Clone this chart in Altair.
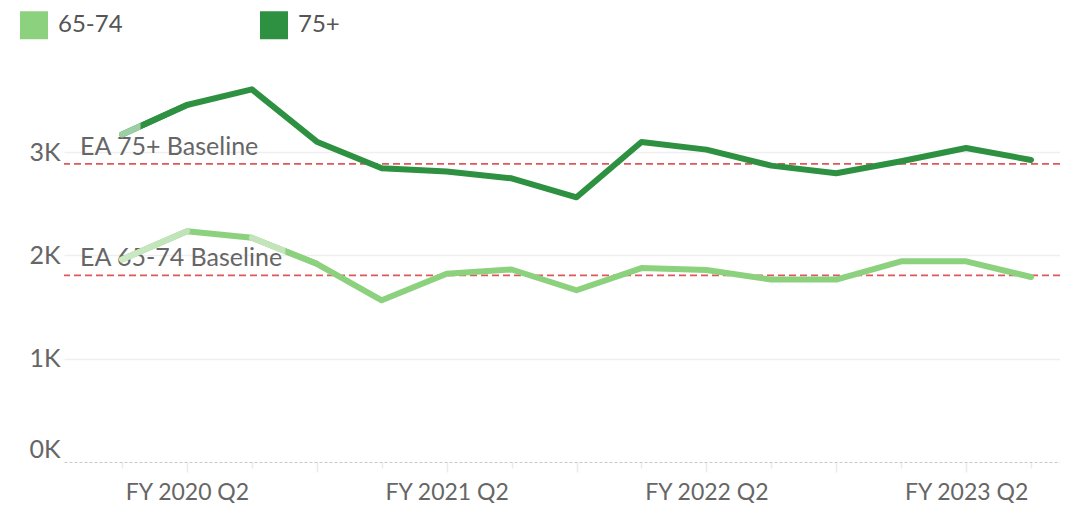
import altair as alt
import pandas as pd

quarters = ["FY 2020 Q1", "FY 2020 Q2", "FY 2020 Q3", "FY 2020 Q4",
            "FY 2021 Q1", "FY 2021 Q2", "FY 2021 Q3", "FY 2021 Q4",
            "FY 2022 Q1", "FY 2022 Q2", "FY 2022 Q3", "FY 2022 Q4",
            "FY 2023 Q1", "FY 2023 Q2", "FY 2023 Q3"]
age_65_74 = [1960, 2234, 2170, 1918, 1565, 1822, 1863, 1662, 1877, 1858, 1765, 1765, 1942, 1942, 1790]
age_75_plus = [3170, 3455, 3606, 3100, 2843, 2812, 2745, 2562, 3097, 3023, 2868, 2794, 2910, 3039, 2923]
series_names = ["65-74", "75+"]
series_colors = ["#8cd17d", "#2e9142"]
baseline_labels = ["EA 65-74 Baseline", "EA 75+ Baseline"]
baseline_values = [1807, 2885]

rows = []
for q, a, b in zip(quarters, age_65_74, age_75_plus):
    rows.append({"quarter": q, "group": "65-74", "value": a})
    rows.append({"quarter": q, "group": "75+", "value": b})
df = pd.DataFrame(rows)
base_df = pd.DataFrame({"label": baseline_labels, "value": baseline_values})

FONT = "Lato"
LW = 6
x_scale = alt.Scale(type="point", padding=0.67, align=0.667)
x_enc = alt.X("quarter:O", sort=quarters, scale=x_scale,
              axis=alt.Axis(title=None, labelAngle=0, labelFontSize=23, labelColor="#666666",
                            labelFont=FONT, labelPadding=9,
                            labelExpr="indexof(datum.value, 'Q2') >= 0 ? datum.value : ''",
                            ticks=True, tickColor="#ebebeb", tickWidth=1.5,
                            tickSize=alt.condition("indexof(datum.value, 'Q2') >= 0 || indexof(datum.value, 'Q4') >= 0",
                                                   alt.value(10), alt.value(6)),
                            domain=True, domainColor="#c8c8c8", domainDash=[3, 2], domainWidth=1,
                            grid=False))
y_scale = alt.Scale(domain=[0, 3900], nice=False)
y_enc = alt.Y("value:Q", scale=y_scale,
              axis=alt.Axis(title=None, values=[0, 1000, 2000, 3000], domain=False, ticks=False,
                            labelExpr="datum.value / 1000 + 'K'", labelFontSize=25,
                            labelColor="#666666", labelFont=FONT, labelPadding=4,
                            labelBaseline=alt.condition("datum.value === 0", alt.value("bottom"), alt.value("middle")),
                            grid=True, gridColor="#efefef", gridWidth=1.5,
                            gridOpacity=alt.condition("datum.value === 0", alt.value(0), alt.value(1))))

lines = alt.Chart(df).mark_line(strokeWidth=LW, strokeCap="round", strokeJoin="round").encode(
    x=x_enc, y=y_enc,
    color=alt.Color("group:N", scale=alt.Scale(domain=series_names, range=series_colors),
                    legend=alt.Legend(title=None, orient="none", legendX=-44, legendY=-48,
                                      direction="horizontal", columns=2, symbolType="square",
                                      symbolSize=1, symbolStrokeWidth=27, labelFontSize=24,
                                      labelFont=FONT, labelColor="#555555", labelOffset=10,
                                      columnPadding=96, symbolOpacity=1)),
)

# faded (highlight-transition) segments
def seg(group, i0, i1, stops):
    vals = age_65_74 if group == "65-74" else age_75_plus
    d = pd.DataFrame({"quarter": quarters[i0:i1 + 1], "value": vals[i0:i1 + 1]})
    grad = alt.LinearGradient(gradient="linear", x1=0, x2=1, y1=0, y2=0,
                              stops=[alt.GradientStop(offset=o, color=c) for o, c in stops])
    return alt.Chart(d).mark_line(strokeWidth=LW, strokeCap="round", color=grad).encode(
        x=alt.X("quarter:O", sort=quarters), y=alt.Y("value:Q"))

fade1 = seg("75+", 0, 1, [(0, "#9ccfa4"), (0.27, "#9ccfa4"), (0.3, "#2e9142"), (1, "#2e9142")])
fade2 = seg("65-74", 0, 1, [(0, "#cde9c6"), (0.5, "#c4e5bc"), (1, "#bfe3b7")])
fade3 = seg("65-74", 2, 3, [(0, "#c4e5bc"), (0.5, "#c4e5bc"), (0.53, "#8cd17d"), (1, "#8cd17d")])

rules = alt.Chart(base_df).mark_rule(color="#e05759", strokeDash=[7, 4], strokeWidth=1.8).encode(
    y=alt.Y("value:Q", scale=y_scale))
texts = alt.Chart(base_df).mark_text(align="left", baseline="alphabetic", dy=-9,
                                     fontSize=25, font=FONT, color="#666666").encode(
    x=alt.value(16), y=alt.Y("value:Q", scale=y_scale), text="label:N")

chart = alt.layer(rules, texts, lines, fade1, fade2, fade3).properties(
    width=996, height=403,
    autosize=alt.AutoSizeParams(type="none"),
    padding={"left": 56, "top": 51, "right": 0, "bottom": 41}
).configure(font=FONT).configure_view(strokeWidth=0, stroke="transparent")

chart.save("out.html", embed_options={"renderer": "svg", "actions": False})
